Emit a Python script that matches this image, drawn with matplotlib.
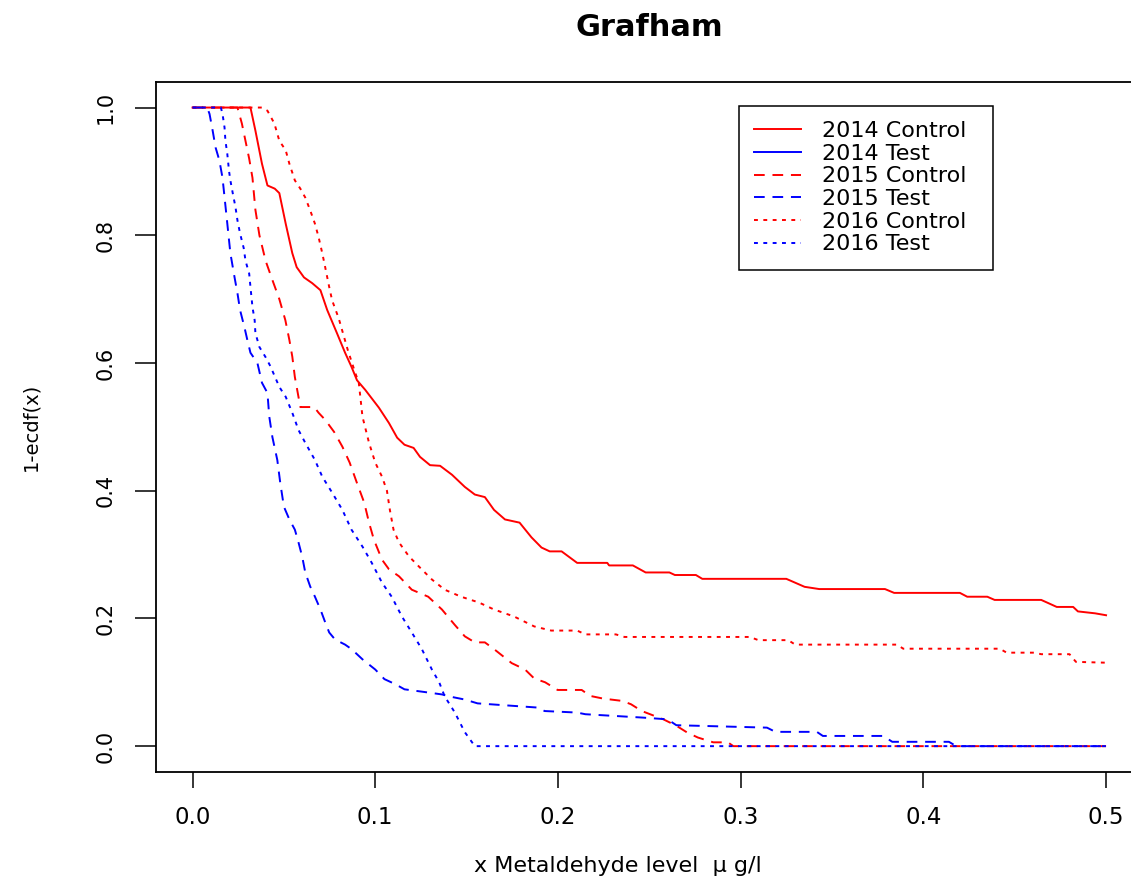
import matplotlib
matplotlib.use("Agg")
import matplotlib.pyplot as plt

## Données (1-ecdf) ##

ctrl_2014_x = [0, 0.0317, 0.0344, 0.038, 0.041, 0.045, 0.0475, 0.051, 0.0546, 0.057,
               0.061, 0.0655, 0.070, 0.0737, 0.079, 0.0835, 0.087, 0.090, 0.0945, 0.102,
               0.1075, 0.112, 0.116, 0.121, 0.1245, 0.130, 0.1355, 0.142, 0.149, 0.1545,
               0.160, 0.165, 0.171, 0.179, 0.1855, 0.191, 0.1955, 0.202, 0.2105, 0.227,
               0.228, 0.241, 0.248, 0.261, 0.264, 0.2755, 0.279, 0.325, 0.335, 0.343,
               0.379, 0.384, 0.420, 0.424, 0.435, 0.439, 0.4645, 0.468, 0.473, 0.482,
               0.4846, 0.494, 0.5]
ctrl_2014_y = [1.0, 1.0, 0.964, 0.912, 0.878, 0.873, 0.866, 0.818, 0.772, 0.75,
               0.734, 0.725, 0.714, 0.683, 0.647, 0.616, 0.594, 0.573, 0.558, 0.53,
               0.506, 0.483, 0.472, 0.467, 0.453, 0.44, 0.439, 0.425, 0.406, 0.394,
               0.39, 0.37, 0.355, 0.35, 0.327, 0.311, 0.305, 0.305, 0.287, 0.287,
               0.283, 0.283, 0.272, 0.272, 0.268, 0.268, 0.262, 0.262, 0.2495, 0.246,
               0.246, 0.240, 0.240, 0.234, 0.234, 0.229, 0.229, 0.2245, 0.218, 0.218,
               0.211, 0.208, 0.205]

test_2014_x = []
test_2014_y = []

ctrl_2015_x = [0, 0.0246, 0.027, 0.031, 0.0328, 0.0344, 0.0366, 0.040, 0.0437, 0.0475,
               0.0508, 0.053, 0.0546, 0.056, 0.059, 0.0666, 0.069, 0.0726, 0.0775, 0.082,
               0.086, 0.090, 0.094, 0.0966, 0.0993, 0.1037, 0.1075, 0.113, 0.120, 0.129,
               0.1365, 0.1435, 0.149, 0.1545, 0.160, 0.165, 0.1747, 0.182, 0.187, 0.193,
               0.1998, 0.213, 0.2176, 0.2247, 0.2353, 0.240, 0.2459, 0.2577, 0.2648, 0.2707,
               0.2766, 0.285, 0.293, 0.296, 0.5]
ctrl_2015_y = [1.0, 1.0, 0.975, 0.92, 0.89, 0.84, 0.80, 0.76, 0.73, 0.70,
               0.667, 0.636, 0.61, 0.578, 0.531, 0.531, 0.522, 0.511, 0.492, 0.469,
               0.444, 0.412, 0.381, 0.35, 0.323, 0.292, 0.277, 0.266, 0.245, 0.234,
               0.214, 0.19, 0.172, 0.1625, 0.1625, 0.152, 0.13, 0.12, 0.106, 0.10,
               0.088, 0.088, 0.0787, 0.0745, 0.0708, 0.0656, 0.055, 0.042, 0.032, 0.0214,
               0.0135, 0.006, 0.006, 0.0, 0.0]

test_2015_x = [0, 0.008, 0.0093, 0.011, 0.0126, 0.0147, 0.0164, 0.0175, 0.019, 0.0207,
               0.023, 0.0246, 0.026, 0.0284, 0.030, 0.0317, 0.0355, 0.038, 0.041, 0.042,
               0.0437, 0.0464, 0.048, 0.050, 0.053, 0.056, 0.058, 0.060, 0.0617, 0.0644,
               0.067, 0.070, 0.0726, 0.0748, 0.078, 0.0835, 0.087, 0.093, 0.100, 0.105,
               0.111, 0.116, 0.129, 0.1365, 0.142, 0.149, 0.156, 0.189, 0.1927, 0.2105,
               0.215, 0.246, 0.260, 0.2648, 0.3144, 0.319, 0.3417, 0.345, 0.378, 0.383,
               0.414, 0.418, 0.5]
test_2015_y = [1.0, 1.0, 0.99, 0.964, 0.9375, 0.917, 0.89, 0.86, 0.819, 0.772,
               0.734, 0.709, 0.683, 0.656, 0.636, 0.616, 0.60, 0.569, 0.553, 0.516,
               0.484, 0.448, 0.4125, 0.375, 0.355, 0.339, 0.319, 0.297, 0.272, 0.25,
               0.234, 0.214, 0.194, 0.178, 0.167, 0.159, 0.152, 0.136, 0.12, 0.105,
               0.097, 0.089, 0.084, 0.081, 0.077, 0.073, 0.067, 0.0604, 0.055, 0.0526,
               0.05, 0.0448, 0.042, 0.0328, 0.029, 0.0224, 0.0224, 0.016, 0.016, 0.0068,
               0.0068, 0.0, 0.0]

ctrl_2016_x = [0, 0.038, 0.041, 0.0448, 0.0475, 0.051, 0.053, 0.056, 0.059, 0.0617,
               0.0644, 0.067, 0.069, 0.071, 0.0726, 0.0748, 0.0764, 0.080, 0.085, 0.089,
               0.091, 0.093, 0.0966, 0.100, 0.1037, 0.1064, 0.108, 0.110, 0.113, 0.1185,
               0.124, 0.131, 0.138, 0.147, 0.1567, 0.165, 0.176, 0.187, 0.1963, 0.2105,
               0.215, 0.2317, 0.2364, 0.305, 0.3097, 0.326, 0.3299, 0.3856, 0.389, 0.4418,
               0.4456, 0.4607, 0.4645, 0.480, 0.4835, 0.5]
ctrl_2016_y = [1.0, 1.0, 0.995, 0.975, 0.948, 0.933, 0.912, 0.886, 0.873, 0.859,
               0.839, 0.818, 0.797, 0.772, 0.75, 0.719, 0.698, 0.67, 0.62, 0.585,
               0.569, 0.516, 0.475, 0.444, 0.422, 0.40, 0.37, 0.339, 0.319, 0.297,
               0.281, 0.261, 0.245, 0.234, 0.225, 0.214, 0.203, 0.1875, 0.181, 0.181,
               0.175, 0.175, 0.171, 0.171, 0.166, 0.166, 0.159, 0.159, 0.1526, 0.1526,
               0.1464, 0.1464, 0.144, 0.144, 0.132, 0.1307]

test_2016_x = [0, 0.0155, 0.0164, 0.0175, 0.018, 0.019, 0.020, 0.0207, 0.022, 0.0235,
               0.0246, 0.026, 0.028, 0.029, 0.031, 0.0317, 0.0328, 0.034, 0.0344, 0.0366,
               0.040, 0.0426, 0.0475, 0.051, 0.0546, 0.058, 0.0617, 0.067, 0.071, 0.0764,
               0.082, 0.087, 0.093, 0.098, 0.1037, 0.109, 0.1146, 0.120, 0.1255, 0.131,
               0.135, 0.138, 0.1435, 0.149, 0.1545, 0.5]
test_2016_y = [1.0, 1.0, 0.99, 0.969, 0.948, 0.928, 0.90, 0.886, 0.866, 0.844,
               0.823, 0.803, 0.78, 0.76, 0.74, 0.719, 0.6875, 0.667, 0.647, 0.625,
               0.609, 0.595, 0.5625, 0.547, 0.522, 0.495, 0.475, 0.448, 0.422, 0.397,
               0.37, 0.339, 0.3125, 0.2875, 0.256, 0.234, 0.203, 0.178, 0.152, 0.12,
               0.10, 0.078, 0.053, 0.022, 0.0, 0.0]

x_ticks = [0.0, 0.1, 0.2, 0.3, 0.4, 0.5]
y_ticks = [0.0, 0.2, 0.4, 0.6, 0.8, 1.0]

## Tracé ##

W, H = 1131, 886
fig = plt.figure(figsize=(W / 100, H / 100), dpi=100)
ax = fig.add_axes([156 / W, 1 - 771.7 / H, 986.6 / W, 689.7 / H])

lw = 1.4
dash = (5.5, 4)
dot = (2, 2.8)

ax.plot(ctrl_2014_x, ctrl_2014_y, color='#ff0000', lw=lw, label='2014 Control')
ax.plot(test_2014_x, test_2014_y, color='#0000ff', lw=lw, label='2014 Test')
ax.plot(ctrl_2015_x, ctrl_2015_y, color='#ff0000', lw=lw, dashes=dash, label='2015 Control')
ax.plot(test_2015_x, test_2015_y, color='#0000ff', lw=lw, dashes=dash, label='2015 Test')
ax.plot(ctrl_2016_x, ctrl_2016_y, color='#ff0000', lw=lw, dashes=dot, label='2016 Control')
ax.plot(test_2016_x, test_2016_y, color='#0000ff', lw=lw, dashes=dot, label='2016 Test')

ax.set_xlim(-0.02, 0.52)
ax.set_ylim(-0.04, 1.04)
ax.set_xticks(x_ticks)
ax.set_xticklabels(['%.1f' % v for v in x_ticks], fontsize=16.5)
ax.set_yticks(y_ticks)
ax.set_yticklabels(['%.1f' % v for v in y_ticks], fontsize=15, rotation=90, va='center')
ax.tick_params(axis='x', length=11.5, width=1.1, pad=13)
ax.tick_params(axis='y', length=15, width=1.1, pad=14)
for s in ax.spines.values():
    s.set_linewidth(1.3)

ax.set_title('Grafham', fontsize=22, fontweight='bold', pad=33)
ax.set_xlabel('x Metaldehyde level  \u03bc g/l', fontsize=16)
ax.xaxis.set_label_coords(0.468, -0.122)
ax.set_ylabel('1-ecdf(x)', fontsize=14)
ax.yaxis.set_label_coords(-0.117, 0.5)

leg = ax.legend(loc='upper left', bbox_to_anchor=(0.591, 0.9652 - 0.2334, 0.2575, 0.2334),
                mode='expand', borderaxespad=0, fontsize=16, handlelength=2.1,
                handletextpad=0.95, labelspacing=0.12, borderpad=0.68,
                fancybox=False, framealpha=1, edgecolor='black')
leg.get_frame().set_linewidth(1.1)

plt.savefig('out.png', dpi=100)
